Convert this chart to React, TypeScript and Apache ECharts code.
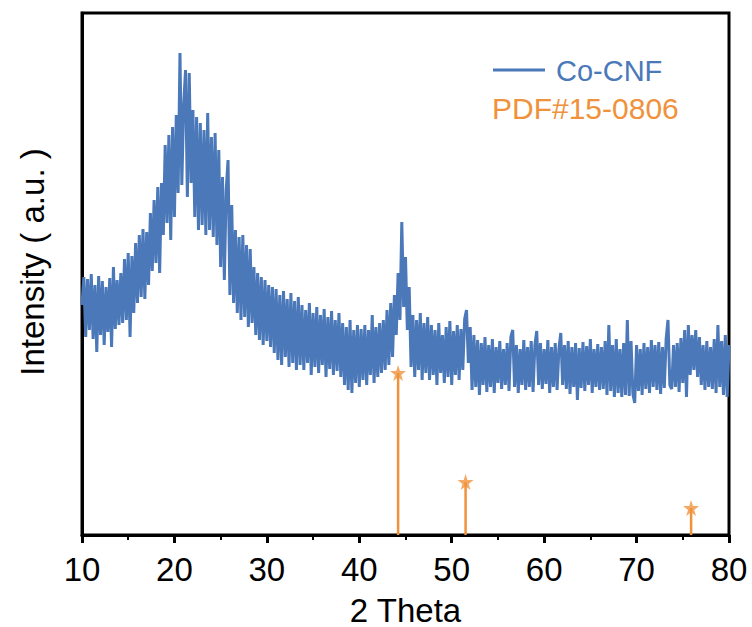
import React, { useEffect, useRef } from "react";
import * as echarts from "echarts";

// 2θ sampling grid of the digitised pattern
const THETA_START = 10;
const THETA_STEP = 0.2;

// Co-CNF intensity (a.u.), every 0.2° from 10° to 80°
const intensity = [
  // 10.0 – 14.2
  230, 258, 198, 256, 205, 261, 196, 250, 183, 259, 200, 254, 190, 248, 203, 257, 188, 268, 206, 255, 210, 262,
  // 14.4 – 15.6
  212, 276, 215, 282, 198, 279, 222,
  // 15.8 – 17.2
  292, 232, 300, 238, 306, 236, 303, 250,
  // 17.4 – 18.6
  322, 264, 335, 272, 348, 262, 352,
  // 18.8 – 20.0
  300, 390, 312, 400, 295, 408, 318,
  // 20.2 – 21.8
  420, 342, 482, 350, 430, 465, 338, 462, 352,
  // 22.0 – 24.0
  425, 318, 418, 305, 412, 310, 405, 300, 422, 305, 398,
  // 24.2 – 24.8
  298, 402, 290, 385,
  // 25.0 – 26.2
  268, 358, 255, 345, 375, 240, 330,
  // 26.4 – 28.4
  232, 305, 222, 298, 215, 300, 218, 290, 208, 286, 212,
  // 28.6 – 30.6
  268, 200, 262, 195, 258, 190, 255, 194, 250, 188, 248,
  // 30.8 – 33.4
  182, 246, 175, 240, 170, 244, 178, 236, 168, 242, 172, 234, 165, 238,
  // 33.6 – 38.0
  170, 230, 165, 225, 172, 232, 160, 222, 168, 228, 162, 220, 170, 226, 158, 218, 166, 224, 160, 215, 164, 222, 158,
  // 38.2 – 40.2
  212, 150, 208, 145, 215, 142, 205, 152, 210, 148, 206,
  // 40.4 – 42.8
  155, 210, 150, 205, 160, 220, 152, 208, 158, 212, 162, 215, 165,
  // 43.0 – 43.8
  225, 170, 232, 178, 240,
  // 44.0 – 45.4
  200, 262, 215, 313, 228, 278, 205, 248,
  // 45.6 – 47.4
  168, 220, 158, 215, 165, 222, 155, 212, 162, 218,
  // 47.6 – 51.2
  155, 210, 160, 205, 150, 212, 162, 200, 152, 208, 158, 214, 150, 204, 160, 210, 155, 206, 165,
  // 51.4 – 52.0
  216, 225, 172, 208,
  // 52.2 – 54.0
  145, 200, 148, 195, 140, 192, 150, 198, 143, 190,
  // 54.2 – 56.0
  148, 196, 142, 188, 152, 194, 146, 186, 150, 192,
  // 56.2 – 58.0
  144, 198, 205, 148, 190, 142, 186, 150, 195, 145,
  // 58.2 – 60.0
  188, 148, 194, 143, 190, 204, 150, 192, 146, 186,
  // 60.2 – 62.0
  151, 195, 142, 188, 148, 192, 145, 186, 202, 150,
  // 62.2 – 64.0
  190, 146, 194, 141, 188, 148, 192, 135, 187, 147,
  // 64.2 – 66.0
  193, 144, 189, 150, 196, 142, 186, 148, 191, 145,
  // 66.2 – 68.0
  188, 146, 194, 140, 210, 144, 190, 138, 196, 142,
  // 68.2 – 70.0
  186, 138, 192, 140, 215, 139, 194, 141, 132, 190,
  // 70.2 – 72.0
  144, 186, 140, 192, 146, 188, 142, 195, 148, 190,
  // 72.2 – 74.0
  145, 193, 141, 188, 147, 196, 215, 150, 146, 190,
  // 74.2 – 76.0
  148, 192, 143, 197, 152, 205, 138, 210, 160, 200,
  // 76.2 – 78.0
  165, 205, 158, 198, 150, 190, 145, 194, 148, 188,
  // 78.2 – 80.0
  146, 196, 142, 210, 148, 194, 140, 200, 138, 190,
];

// PDF#15-0806 reference lines
const refTheta = [44.2, 51.5, 75.9];
const refIntensity = [162, 53, 27];

const xTicks = [10, 20, 30, 40, 50, 60, 70, 80];

const BLUE = "#4a78b9";
const ORANGE = "#f0923c";
const FONT = "'Liberation Sans', Arial, sans-serif";
const STAR =
  "path://M50,0 L61.2,34.5 L97.6,34.5 L68.2,55.9 L79.4,90.5 L50,69.1 L20.6,90.5 L31.8,55.9 L2.4,34.5 L38.8,34.5 Z";

export default function App() {
  const ref = useRef<HTMLDivElement>(null);

  useEffect(() => {
    if (!ref.current) return;
    const chart = echarts.init(ref.current, null, { renderer: "svg" });
    const lineData = intensity.map((v, i) => [
      Number((THETA_START + i * THETA_STEP).toFixed(1)),
      v,
    ]);
    const refData = refTheta.map((t, i) => [t, refIntensity[i]]);

    chart.setOption({
      animation: false,
      backgroundColor: "#ffffff",
      grid: {
        left: 82,
        right: 23,
        top: 13,
        bottom: 92,
        show: true,
        borderColor: "#000",
        borderWidth: 3,
        backgroundColor: "transparent",
        containLabel: false,
        outerBoundsMode: "none",
      },
      xAxis: {
        type: "value",
        min: xTicks[0],
        max: xTicks[xTicks.length - 1],
        interval: 10,
        name: "2 Theta",
        nameLocation: "middle",
        nameGap: 63,
        nameTextStyle: { fontFamily: FONT, fontSize: 33, lineHeight: 24, color: "#000" },
        axisLine: { show: true, onZero: false, lineStyle: { color: "#000", width: 3 } },
        axisTick: { show: true, inside: false, length: 8, lineStyle: { color: "#000", width: 3 } },
        minorTick: { show: true, splitNumber: 2, length: 5, lineStyle: { color: "#000", width: 2 } },
        axisLabel: { fontFamily: FONT, fontSize: 33, color: "#000", margin: 18 },
        splitLine: { show: false },
      },
      yAxis: {
        type: "value",
        min: 0,
        max: 522,
        axisLine: { show: true, lineStyle: { color: "#000", width: 3 } },
        axisTick: { show: false },
        axisLabel: { show: false },
        splitLine: { show: false },
      },
      series: [
        {
          name: "Co-CNF",
          type: "line",
          data: lineData,
          showSymbol: false,
          symbol: "none",
          lineStyle: { color: BLUE, width: 3, join: "bevel" },
          z: 2,
        },
        {
          name: "PDF#15-0806",
          type: "bar",
          data: refData,
          barWidth: 2.5,
          itemStyle: { color: ORANGE },
          z: 3,
        },
        {
          name: "PDF#15-0806 star",
          type: "scatter",
          data: refData,
          symbol: STAR,
          symbolSize: 16,
          itemStyle: { color: ORANGE },
          z: 4,
        },
      ],
      graphic: [
        {
          type: "text",
          x: 32,
          y: 262,
          rotation: Math.PI / 2,
          style: {
            text: "Intensity ( a.u. )",
            fill: "#000",
            font: `33px ${FONT}`,
            align: "center",
            verticalAlign: "middle",
          },
        },
        {
          type: "line",
          shape: { x1: 493, y1: 70, x2: 545, y2: 70 },
          style: { stroke: BLUE, lineWidth: 3 },
        },
        {
          type: "text",
          x: 556,
          y: 71,
          style: {
            text: "Co-CNF",
            fill: BLUE,
            font: `29px ${FONT}`,
            verticalAlign: "middle",
            align: "left",
          },
        },
        {
          type: "text",
          x: 492,
          y: 108,
          style: {
            text: "PDF#15-0806",
            fill: ORANGE,
            font: `30px ${FONT}`,
            verticalAlign: "middle",
            align: "left",
          },
        },
      ],
    });

    return () => chart.dispose();
  }, []);

  return <div ref={ref} style={{ width: 752, height: 627, position: "absolute", left: 0, top: 0 }} />;
}
